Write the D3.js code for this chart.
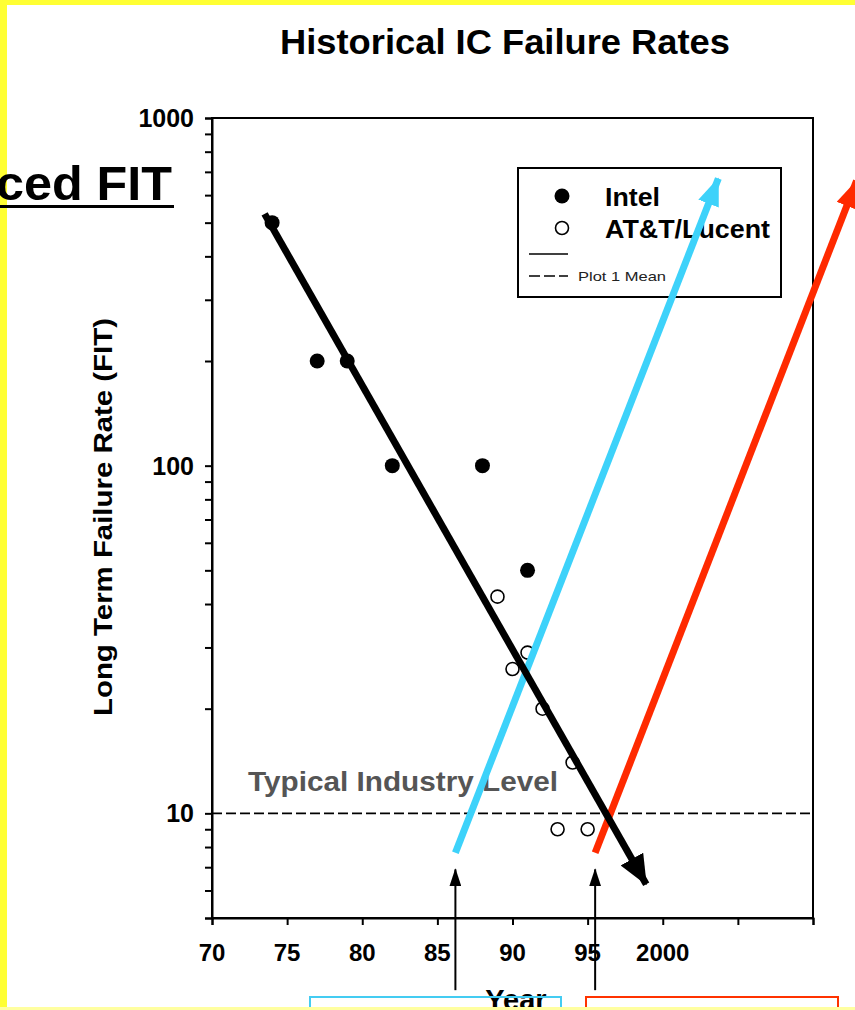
<!DOCTYPE html>
<html>
<head>
<meta charset="utf-8">
<script src="https://cdn.jsdelivr.net/npm/d3@7"></script>
<style>
  html, body { margin: 0; padding: 0; background: #fff; }
  svg { display: block; font-family: "Liberation Sans", Arial, sans-serif; }
</style>
</head>
<body>
<svg id="chart" width="855" height="1010"></svg>
<script>
// data
const intelYears = [74, 77, 79, 82, 88, 91];
const intelFit   = [500, 200, 200, 100, 100, 50];
const attYears   = [89, 91, 90, 92, 94, 93, 95];
const attFit     = [42, 29, 26, 20, 14, 9, 9];
const industryLevel = 10;

const xTicks = [70, 75, 80, 85, 90, 95, 100, 105, 110];
const xTickLabels = ["70", "75", "80", "85", "90", "95", "2000", "", ""];
const yLabelTicks = [10, 100, 1000];

// annotation arrows, [year, FIT] pairs
const trendArrow = [[73.5, 530], [98.9, 6.25]];
const blueArrow  = [[86.2, 7.7], [103.7, 670]];
const redArrow   = [[95.5, 7.7], [112.9, 660]];
const pointerArrows = [[[86.2, 3.1], [86.2, 6.9]], [[95.5, 3.1], [95.5, 6.9]]];

const svg = d3.select("#chart");
const plotL = 212, plotR = 813, plotT = 118, plotB = 918;

const x = d3.scaleLinear().domain([70, 110]).range([plotL, plotR]);
const y = d3.scaleLog().domain([5, 1000]).range([plotB, plotT]);

// arrow heads
const defs = svg.append("defs");
function head(id, color, w, l){
  defs.append("marker")
    .attr("id", id)
    .attr("markerUnits", "userSpaceOnUse")
    .attr("viewBox", `0 ${-w/2} ${l} ${w}`)
    .attr("refX", l - 1).attr("refY", 0)
    .attr("markerWidth", l).attr("markerHeight", w)
    .attr("orient", "auto")
    .append("path")
    .attr("d", `M0,${-w/2}L${l},0L0,${w/2}Z`)
    .attr("fill", color);
}
head("hBlack", "#000", 26, 30);
head("hBlue", "#3dd2fa", 22, 28);
head("hRed", "#ff2a00", 22, 28);
head("hThin", "#000", 12, 18);

// title
svg.append("text")
  .attr("x", 505).attr("y", 54)
  .attr("text-anchor", "middle")
  .attr("font-size", 35).attr("font-weight", "bold")
  .attr("textLength", 450).attr("lengthAdjust", "spacingAndGlyphs")
  .text("Historical IC Failure Rates");

// plot frame
svg.append("rect")
  .attr("x", plotL).attr("y", plotT)
  .attr("width", plotR - plotL).attr("height", plotB - plotT)
  .attr("fill", "none").attr("stroke", "#000").attr("stroke-width", 2);

// y axis (log)
const yAxis = svg.append("g")
  .attr("transform", `translate(${plotL},0)`)
  .call(d3.axisLeft(y).tickValues([5,6,7,8,9,10,20,30,40,50,60,70,80,90,100,200,300,400,500,600,700,800,900,1000])
    .tickSize(7).tickFormat(""));
yAxis.select(".domain").attr("stroke-width", 2);
yAxis.selectAll(".tick line").attr("stroke-width", 2);

svg.append("g").selectAll("text")
  .data(yLabelTicks)
  .join("text")
  .attr("x", 194).attr("y", d => y(d) + 9)
  .attr("text-anchor", "end")
  .attr("font-size", 25).attr("font-weight", "bold")
  .text(d => d);

// x axis
const xAxis = svg.append("g")
  .attr("transform", `translate(0,${plotB})`)
  .call(d3.axisBottom(x).tickValues(xTicks).tickSize(7).tickFormat(""));
xAxis.select(".domain").attr("stroke-width", 2);
xAxis.selectAll(".tick line").attr("stroke-width", 2);

svg.append("g").selectAll("text")
  .data(xTicks)
  .join("text")
  .attr("x", d => x(d)).attr("y", 961)
  .attr("text-anchor", "middle")
  .attr("font-size", 24).attr("font-weight", "bold")
  .text((d, i) => xTickLabels[i]);

// axis titles
svg.append("text")
  .attr("transform", "translate(112,517) rotate(-90)")
  .attr("text-anchor", "middle")
  .attr("font-size", 26).attr("font-weight", "bold")
  .attr("textLength", 398).attr("lengthAdjust", "spacingAndGlyphs")
  .text("Long Term Failure Rate (FIT)");

svg.append("text")
  .attr("x", 516).attr("y", 1010)
  .attr("text-anchor", "middle")
  .attr("font-size", 29).attr("font-weight", "bold")
  .text("Year");

// industry level
svg.append("line")
  .attr("x1", plotL).attr("x2", plotR)
  .attr("y1", y(industryLevel)).attr("y2", y(industryLevel))
  .attr("stroke", "#000").attr("stroke-width", 1.8)
  .attr("stroke-dasharray", "10,4");

svg.append("text")
  .attr("x", 248).attr("y", 791)
  .attr("font-size", 28).attr("font-weight", "bold")
  .attr("fill", "#555")
  .attr("textLength", 310).attr("lengthAdjust", "spacingAndGlyphs")
  .text("Typical Industry Level");

// points
svg.append("g").selectAll("circle")
  .data(intelYears.map((d, i) => [d, intelFit[i]]))
  .join("circle")
  .attr("cx", d => x(d[0])).attr("cy", d => y(d[1]))
  .attr("r", 7.5).attr("fill", "#000");

svg.append("g").selectAll("circle")
  .data(attYears.map((d, i) => [d, attFit[i]]))
  .join("circle")
  .attr("cx", d => x(d[0])).attr("cy", d => y(d[1]))
  .attr("r", 6.5).attr("fill", "#fff")
  .attr("stroke", "#000").attr("stroke-width", 1.6);

// legend
const lg = svg.append("g");
lg.append("rect")
  .attr("x", 518).attr("y", 168).attr("width", 263).attr("height", 129)
  .attr("fill", "#fff").attr("stroke", "#000").attr("stroke-width", 2);
lg.append("circle").attr("cx", 562).attr("cy", 196).attr("r", 7.5).attr("fill", "#000");
lg.append("circle").attr("cx", 562).attr("cy", 228).attr("r", 6.5)
  .attr("fill", "#fff").attr("stroke", "#000").attr("stroke-width", 1.6);
lg.append("text").attr("x", 605).attr("y", 206)
  .attr("font-size", 26).attr("font-weight", "bold")
  .attr("textLength", 55).attr("lengthAdjust", "spacingAndGlyphs").text("Intel");
lg.append("text").attr("x", 605).attr("y", 238)
  .attr("font-size", 26).attr("font-weight", "bold")
  .attr("textLength", 165).attr("lengthAdjust", "spacingAndGlyphs").text("AT&T/Lucent");
lg.append("line").attr("x1", 529).attr("x2", 568).attr("y1", 254).attr("y2", 254)
  .attr("stroke", "#000").attr("stroke-width", 1.6);
lg.append("line").attr("x1", 529).attr("x2", 568).attr("y1", 276).attr("y2", 276)
  .attr("stroke", "#000").attr("stroke-width", 1.6).attr("stroke-dasharray", "11,4");
lg.append("text").attr("x", 578).attr("y", 281)
  .attr("font-size", 13).attr("fill", "#222")
  .attr("textLength", 88).attr("lengthAdjust", "spacingAndGlyphs").text("Plot 1 Mean");

// annotation arrows
function arrow(pts, color, width, marker){
  svg.append("line")
    .attr("x1", x(pts[0][0])).attr("y1", y(pts[0][1]))
    .attr("x2", x(pts[1][0])).attr("y2", y(pts[1][1]))
    .attr("stroke", color).attr("stroke-width", width)
    .attr("marker-end", `url(#${marker})`);
}
arrow(blueArrow, "#3dd2fa", 7, "hBlue");
arrow(redArrow, "#ff2a00", 7, "hRed");
arrow(trendArrow, "#000", 7, "hBlack");
pointerArrows.forEach(p => arrow(p, "#000", 2, "hThin"));

// boxes at the bottom
svg.append("rect").attr("x", 310).attr("y", 997).attr("width", 251).attr("height", 30)
  .attr("fill", "none").attr("stroke", "#44ccf2").attr("stroke-width", 2);
svg.append("rect").attr("x", 586).attr("y", 997).attr("width", 252).attr("height", 30)
  .attr("fill", "none").attr("stroke", "#ff3300").attr("stroke-width", 2);

// yellow slide frame
svg.append("rect").attr("x", 0).attr("y", 0).attr("width", 855).attr("height", 5).attr("fill", "#ffff33");
svg.append("rect").attr("x", 0).attr("y", 0).attr("width", 7).attr("height", 1010).attr("fill", "#ffff33");
svg.append("rect").attr("x", 0).attr("y", 1007).attr("width", 855).attr("height", 3).attr("fill", "#ffffa0");

// cut-off slide heading
svg.append("text")
  .attr("x", 172).attr("y", 200)
  .attr("text-anchor", "end")
  .attr("font-size", 48).attr("font-weight", "bold")
  .attr("textLength", 176).attr("lengthAdjust", "spacingAndGlyphs")
  .text("ced FIT");
svg.append("rect").attr("x", 0).attr("y", 205).attr("width", 174).attr("height", 3).attr("fill", "#000");
</script>
</body>
</html>
